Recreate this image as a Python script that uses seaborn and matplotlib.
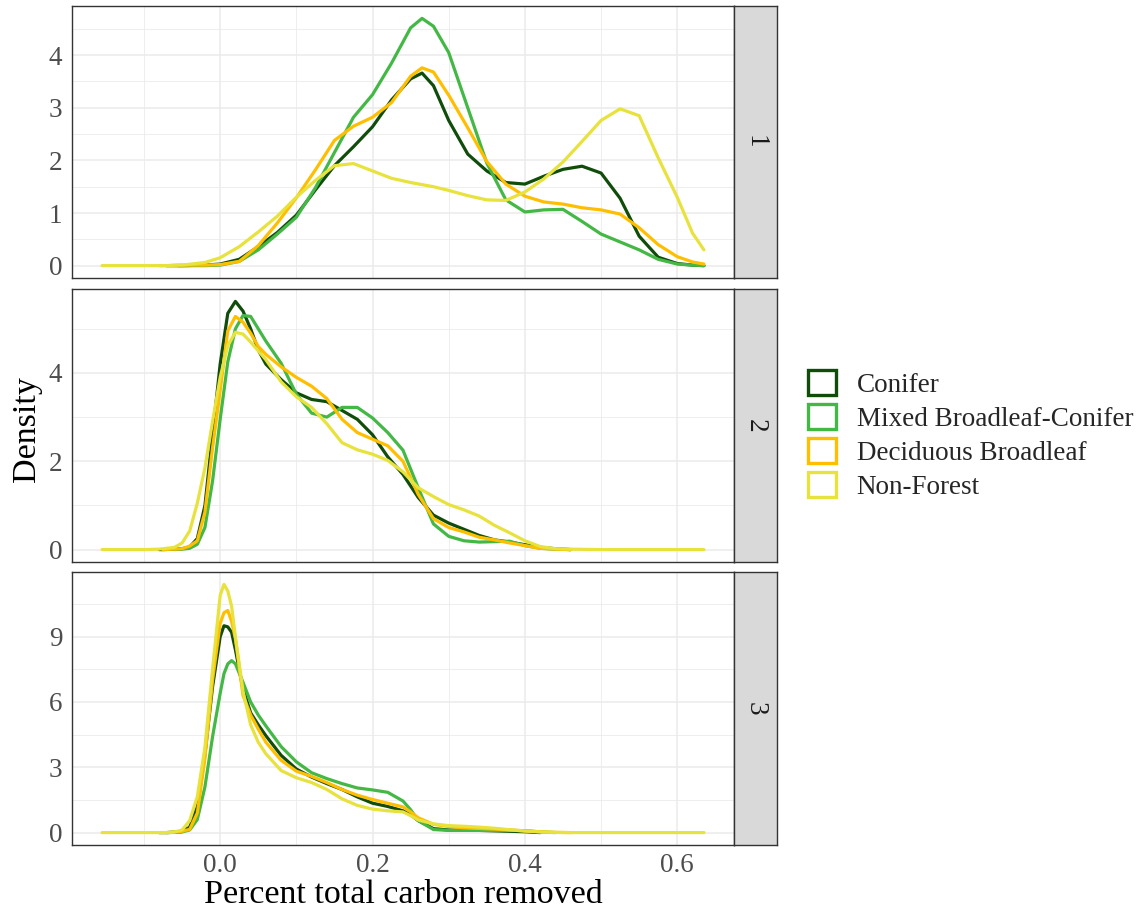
import numpy as np
import pandas as pd
import matplotlib
matplotlib.use("Agg")
import matplotlib.pyplot as plt
from matplotlib.patches import Patch
from matplotlib.ticker import MultipleLocator, FormatStrFormatter
import seaborn as sns

# ---------------- data ----------------
types = ["Conifer", "Mixed Broadleaf-Conifer", "Deciduous Broadleaf", "Non-Forest"]
colors = ["#104d0b", "#44b845", "#ffbf00", "#e8e23c"]
panels = ["1", "2", "3"]
N = None

# Panel 1
x1 = [-0.155, -0.10, -0.08, -0.07, -0.055, -0.05, -0.02, 0.0, 0.025, 0.05, 0.075, 0.10, 0.125, 0.15,
      0.175, 0.20, 0.225, 0.25, 0.265, 0.28, 0.30, 0.325, 0.35, 0.375, 0.40, 0.425, 0.45,
      0.475, 0.50, 0.525, 0.55, 0.575, 0.60, 0.62, 0.635]
p1_conifer = [N, N, N, 0.0, 0.0, 0.0, 0.01, 0.03, 0.12, 0.36, 0.63, 0.96, 1.44, 1.90,
              2.26, 2.64, 3.15, 3.55, 3.66, 3.42, 2.76, 2.12, 1.80, 1.58, 1.55, 1.70, 1.83,
              1.89, 1.76, 1.28, 0.56, 0.16, 0.04, 0.01, 0.0]
p1_mixed = [N, N, N, N, 0.0, 0.0, 0.0, 0.01, 0.08, 0.30, 0.60, 0.92, 1.48, 2.15,
            2.82, 3.25, 3.85, 4.52, 4.70, 4.55, 4.05, 3.00, 1.95, 1.25, 1.02, 1.06, 1.07,
            0.84, 0.60, 0.45, 0.30, 0.12, 0.03, 0.01, 0.0]
p1_decid = [N, N, 0.0, 0.0, 0.01, 0.01, 0.01, 0.02, 0.08, 0.38, 0.81, 1.29, 1.82, 2.38,
            2.65, 2.82, 3.10, 3.60, 3.76, 3.68, 3.24, 2.62, 1.98, 1.55, 1.32, 1.21, 1.17,
            1.10, 1.06, 0.98, 0.72, 0.40, 0.17, 0.07, 0.03]
p1_nonfor = [0.0, 0.0, 0.0, 0.0, 0.01, 0.01, 0.06, 0.15, 0.36, 0.64, 0.94, 1.30, 1.62, 1.90,
             1.94, 1.80, 1.66, 1.58, 1.54, 1.50, 1.43, 1.33, 1.25, 1.24, 1.40, 1.65, 1.97,
             2.36, 2.76, 2.98, 2.85, 2.05, 1.30, 0.62, 0.30]

# Panel 2
x2 = [-0.155, -0.10, -0.08, -0.075, -0.06, -0.05, -0.04, -0.03, -0.02, -0.01, 0.0, 0.01, 0.02,
      0.03, 0.04, 0.05, 0.06, 0.08, 0.10, 0.12, 0.14, 0.16, 0.18, 0.20, 0.22, 0.24,
      0.26, 0.28, 0.30, 0.32, 0.34, 0.36, 0.38, 0.40, 0.42, 0.44, 0.46, 0.50, 0.55,
      0.60, 0.635]
p2_conifer = [N, N, 0.0, 0.0, 0.01, 0.02, 0.06, 0.25, 1.00, 2.60, 4.20, 5.35, 5.62,
              5.40, 5.00, 4.52, 4.20, 3.85, 3.55, 3.40, 3.35, 3.15, 2.95, 2.60, 2.10, 1.70,
              1.18, 0.78, 0.60, 0.46, 0.32, 0.22, 0.17, 0.11, 0.05, 0.02, 0.0, N, N,
              N, N]
p2_mixed = [N, N, N, N, 0.0, 0.01, 0.03, 0.12, 0.50, 1.55, 2.95, 4.25, 5.00,
            5.30, 5.28, 5.00, 4.72, 4.22, 3.52, 3.09, 3.00, 3.22, 3.22, 2.98, 2.65, 2.25,
            1.40, 0.58, 0.30, 0.20, 0.17, 0.18, 0.19, 0.09, 0.03, 0.01, 0.0, N, N,
            N, N]
p2_decid = [N, N, N, 0.0, 0.01, 0.02, 0.08, 0.20, 0.85, 2.30, 3.60, 4.95, 5.28,
            5.15, 4.90, 4.60, 4.42, 4.14, 3.90, 3.70, 3.42, 2.95, 2.65, 2.50, 2.35, 2.00,
            1.25, 0.70, 0.50, 0.40, 0.28, 0.22, 0.15, 0.09, 0.03, 0.01, 0.0, N, N,
            N, N]
p2_nonfor = [0.0, 0.0, 0.01, 0.02, 0.05, 0.15, 0.42, 1.05, 1.85, 2.90, 3.90, 4.62, 4.92,
             4.88, 4.70, 4.50, 4.30, 3.80, 3.46, 3.22, 2.85, 2.42, 2.26, 2.16, 2.02, 1.76,
             1.40, 1.20, 1.02, 0.90, 0.76, 0.55, 0.38, 0.20, 0.07, 0.02, 0.01, 0.0, 0.0,
             0.0, 0.0]

# Panel 3
x3 = [-0.155, -0.10, -0.08, -0.07, -0.06, -0.05, -0.04, -0.03, -0.02, -0.01, 0.0, 0.005, 0.01,
      0.015, 0.02, 0.03, 0.04, 0.05, 0.06, 0.08, 0.10, 0.12, 0.14, 0.16, 0.18, 0.20,
      0.22, 0.24, 0.25, 0.26, 0.28, 0.30, 0.32, 0.34, 0.36, 0.38, 0.40, 0.42, 0.44,
      0.46, 0.50, 0.55, 0.60, 0.635]
p3_conifer = [N, N, 0.0, 0.0, 0.02, 0.05, 0.25, 1.20, 3.60, 6.70, 9.00, 9.50, 9.45,
              9.20, 8.40, 6.60, 5.50, 4.95, 4.45, 3.55, 2.92, 2.55, 2.25, 1.98, 1.64, 1.35,
              1.20, 1.00, 0.82, 0.55, 0.18, 0.12, 0.10, 0.10, 0.08, 0.06, 0.04, 0.0, N,
              N, N, N, N, N]
p3_mixed = [N, N, N, 0.0, 0.01, 0.03, 0.12, 0.60, 2.10, 4.40, 6.40, 7.30, 7.75,
            7.90, 7.75, 6.90, 6.00, 5.40, 4.90, 3.95, 3.25, 2.75, 2.48, 2.25, 2.05, 1.96,
            1.85, 1.45, 1.05, 0.55, 0.14, 0.10, 0.10, 0.10, 0.10, 0.10, 0.09, 0.03, 0.0,
            N, N, N, N, N]
p3_decid = [N, N, N, 0.0, 0.02, 0.06, 0.15, 0.90, 3.40, 7.00, 9.60, 10.10, 10.20,
            9.70, 8.90, 6.30, 5.40, 4.75, 4.15, 3.32, 2.82, 2.58, 2.30, 1.98, 1.72, 1.52,
            1.35, 1.18, 0.95, 0.68, 0.38, 0.28, 0.22, 0.19, 0.16, 0.12, 0.08, 0.04, 0.01,
            0.0, N, N, N, N]
p3_nonfor = [0.0, 0.0, 0.0, 0.0, 0.03, 0.12, 0.55, 1.65, 3.92, 7.50, 10.90, 11.40, 11.10,
             10.40, 9.00, 6.50, 4.95, 4.15, 3.62, 2.85, 2.52, 2.30, 1.98, 1.55, 1.25, 1.08,
             1.00, 0.95, 0.78, 0.58, 0.40, 0.32, 0.29, 0.25, 0.20, 0.13, 0.07, 0.03, 0.01,
             0.0, 0.0, 0.0, 0.0, 0.0]

panel_x = {"1": x1, "2": x2, "3": x3}
panel_vals = {
    "1": [p1_conifer, p1_mixed, p1_decid, p1_nonfor],
    "2": [p2_conifer, p2_mixed, p2_decid, p2_nonfor],
    "3": [p3_conifer, p3_mixed, p3_decid, p3_nonfor],
}
y_major = {"1": 1, "2": 2, "3": 3}

# ---------------- build long table ----------------
rows = []
for p in panels:
    for t, vals in zip(types, panel_vals[p]):
        for xv, yv in zip(panel_x[p], vals):
            if yv is not None:
                rows.append((p, t, xv, yv))
df = pd.DataFrame(rows, columns=["panel", "type", "x", "density"])

# ---------------- style ----------------
sns.set_style("white")
plt.rcParams["font.family"] = ["Liberation Serif", "DejaVu Serif"]

W, H = 1138, 913
fig = plt.figure(figsize=(W / 100, H / 100), dpi=100)

left_px, right_px, strip_w = 72, 734, 43
tops = [6, 289, 572]
bots = [278, 562, 845]
palette = dict(zip(types, colors))
TICK_FS = 19.5
TITLE_FS = 24.5

xmin, xmax = df["x"].min(), df["x"].max()
xpad = 0.05 * (xmax - xmin)

for i, p in enumerate(panels):
    b = 1 - bots[i] / H
    h = (bots[i] - tops[i]) / H
    ax = fig.add_axes([left_px / W, b, (right_px - left_px) / W, h])
    sub = df[df["panel"] == p]
    sns.lineplot(data=sub, x="x", y="density", hue="type", hue_order=types,
                 palette=palette, estimator=None, linewidth=2.3, legend=False, ax=ax)
    ymax = sub["density"].max()
    ax.set_xlim(xmin - xpad, xmax + xpad)
    ax.set_ylim(-0.05 * ymax, ymax * 1.05)
    ax.xaxis.set_major_locator(MultipleLocator(0.2))
    ax.xaxis.set_minor_locator(MultipleLocator(0.1))
    ax.xaxis.set_major_formatter(FormatStrFormatter("%.1f"))
    ax.yaxis.set_major_locator(MultipleLocator(y_major[p]))
    ax.yaxis.set_minor_locator(MultipleLocator(y_major[p] / 2))
    ax.grid(which="major", color="#ebebeb", linewidth=1.1)
    ax.grid(which="minor", color="#ebebeb", linewidth=0.6)
    ax.set_axisbelow(True)
    for s in ax.spines.values():
        s.set_color("#333333")
        s.set_linewidth(1.0)
    ax.tick_params(axis="y", which="major", length=4, width=0.9, color="#333333",
                   labelsize=TICK_FS, labelcolor="#4d4d4d", pad=3)
    ax.tick_params(which="minor", length=0)
    if i < 2:
        ax.tick_params(axis="x", which="major", length=0, labelbottom=False)
    else:
        ax.tick_params(axis="x", which="major", length=4, width=0.9, color="#333333",
                       labelsize=TICK_FS, labelcolor="#4d4d4d", pad=2)
    ax.set_xlabel("")
    ax.set_ylabel("")

    # facet strip
    sax = fig.add_axes([right_px / W, b, strip_w / W, h])
    sax.set_facecolor("#d9d9d9")
    sax.set_xticks([])
    sax.set_yticks([])
    for s in sax.spines.values():
        s.set_color("#333333")
        s.set_linewidth(1.0)
    sax.text(0.5, 0.5, p, rotation=-90, ha="center", va="center",
             fontsize=TICK_FS, color="#1a1a1a", transform=sax.transAxes)

fig.text(403 / W, 1 - 895 / H, "Percent total carbon removed", ha="center", va="center",
         fontsize=TITLE_FS, color="black")
fig.text(27 / W, 1 - 429 / H, "Density", ha="center", va="center", rotation=90,
         fontsize=TITLE_FS, color="black")

handles = [Patch(facecolor="white", edgecolor=c, linewidth=2.4, label=t)
           for t, c in zip(types, colors)]
fig.legend(handles=handles, loc="center left", bbox_to_anchor=(808 / W, 1 - 435 / H),
           frameon=False, fontsize=TICK_FS, handlelength=1.05, handleheight=1.05,
           handletextpad=0.75, labelspacing=0.23, borderaxespad=0, borderpad=0)

fig.savefig("out.png", dpi=100)
